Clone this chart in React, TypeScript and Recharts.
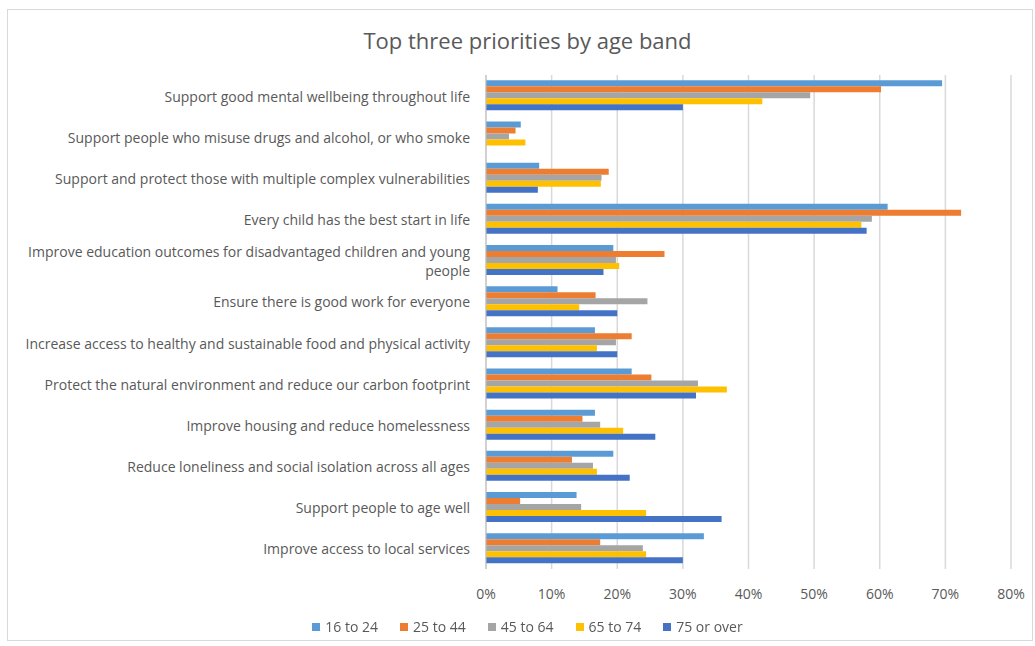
import { BarChart, Bar, XAxis, YAxis, CartesianGrid } from 'recharts'

const priorities = [
  'Support good mental wellbeing throughout life',
  'Support people who misuse drugs and alcohol, or who smoke',
  'Support and protect those with multiple complex vulnerabilities',
  'Every child has the best start in life',
  'Improve education outcomes for disadvantaged children and young people',
  'Ensure there is good work for everyone',
  'Increase access to healthy and sustainable food and physical activity',
  'Protect the natural environment and reduce our carbon footprint',
  'Improve housing and reduce homelessness',
  'Reduce loneliness and social isolation across all ages',
  'Support people to age well',
  'Improve access to local services',
]

const age16to24 = [69.5, 5.3, 8.1, 61.2, 19.4, 10.9, 16.6, 22.2, 16.6, 19.4, 13.8, 33.2]
const age25to44 = [60.2, 4.5, 18.7, 72.4, 27.2, 16.7, 22.2, 25.2, 14.7, 13.1, 5.2, 17.4]
const age45to64 = [49.4, 3.5, 17.6, 58.8, 19.8, 24.6, 19.8, 32.3, 17.4, 16.3, 14.5, 23.9]
const age65to74 = [42.1, 6.0, 17.5, 57.2, 20.3, 14.2, 16.9, 36.7, 20.9, 16.9, 24.4, 24.4]
const age75plus = [30.0, 0, 7.9, 58.0, 17.9, 20.0, 20.0, 32.0, 25.8, 21.9, 35.9, 30.0]

const xTicks = [0, 10, 20, 30, 40, 50, 60, 70, 80]

const series = [
  { key: 'a', name: '16 to 24', color: '#5B9BD5', values: age16to24 },
  { key: 'b', name: '25 to 44', color: '#ED7D31', values: age25to44 },
  { key: 'c', name: '45 to 64', color: '#A5A5A5', values: age45to64 },
  { key: 'd', name: '65 to 74', color: '#FFC000', values: age65to74 },
  { key: 'e', name: '75 or over', color: '#4472C4', values: age75plus },
]

const data = priorities.map((p, i) => {
  const row: Record<string, string | number> = { name: p }
  series.forEach((s) => {
    row[s.key] = s.values[i]
  })
  return row
})

const FONT = "'Open Sans', sans-serif"
const TEXT = '#595959'

// greedy word wrap by character count
function wrap(text: string, max: number) {
  if (text.length <= max) return [text]
  const words = text.split(' ')
  const lines: string[] = []
  let cur = ''
  words.forEach((w) => {
    if (cur && (cur + ' ' + w).length > max) {
      lines.push(cur)
      cur = w
    } else {
      cur = cur ? cur + ' ' + w : w
    }
  })
  if (cur) lines.push(cur)
  return lines
}

function CategoryTick(props: any) {
  const { x, y, payload } = props
  const lines = wrap(payload.value, 69)
  const lh = 19
  const y0 = y - ((lines.length - 1) * lh) / 2
  return (
    <text x={x - 8} y={y0} textAnchor="end" fill={TEXT} fontSize={14} fontFamily={FONT} dominantBaseline="central">
      {lines.map((l, i) => (
        <tspan key={i} x={x - 8} dy={i === 0 ? 0 : lh}>
          {l}
        </tspan>
      ))}
    </text>
  )
}

function LegendRow() {
  return (
    <div
      style={{
        position: 'absolute',
        top: 617,
        left: 0,
        width: 1055,
        display: 'flex',
        justifyContent: 'center',
        gap: 22,
        fontFamily: FONT,
        fontSize: 14,
        color: TEXT,
      }}
    >
      {series.map((s) => (
        <div key={s.key} style={{ display: 'flex', alignItems: 'center', gap: 5 }}>
          <span style={{ width: 8, height: 8, background: s.color, display: 'inline-block' }} />
          <span>{s.name}</span>
        </div>
      ))}
    </div>
  )
}

export default function App() {
  return (
    <div style={{ position: 'fixed', left: 0, top: 0, width: 1035, height: 646, background: '#fff' }}>
      <div
        style={{
          position: 'absolute',
          left: 7,
          top: 9,
          width: 1024,
          height: 630,
          border: '1px solid #d9d9d9',
        }}
      />
      <div
        style={{
          position: 'absolute',
          left: 0,
          width: 1055,
          top: 25,
          textAlign: 'center',
          fontFamily: FONT,
          fontSize: 22,
          color: TEXT,
        }}
      >
        Top three priorities by age band
      </div>
      <div style={{ position: 'absolute', left: 0, top: 0 }}>
        <BarChart
          width={1035}
          height={646}
          layout="vertical"
          data={data}
          margin={{ top: 75, right: 24, bottom: 47, left: 0 }}
          barCategoryGap="13%"
          barGap={0}
        >
          <CartesianGrid horizontal={false} stroke="#d9d9d9" strokeWidth={1.5} />
          <XAxis
            type="number"
            domain={[0, 80]}
            ticks={xTicks}
            tickFormatter={(v) => `${v}%`}
            axisLine={false}
            tickLine={false}
            tick={{ fill: TEXT, fontSize: 14, fontFamily: FONT }}
            tickMargin={14}
            height={30}
          />
          <YAxis
            type="category"
            dataKey="name"
            width={486}
            axisLine={{ stroke: '#bfbfbf' }}
            tickLine={false}
            tick={<CategoryTick />}
            interval={0}
          />
          {series.map((s) => (
            <Bar key={s.key} dataKey={s.key} name={s.name} fill={s.color} isAnimationActive={false} />
          ))}
        </BarChart>
      </div>
      <LegendRow />
    </div>
  )
}
